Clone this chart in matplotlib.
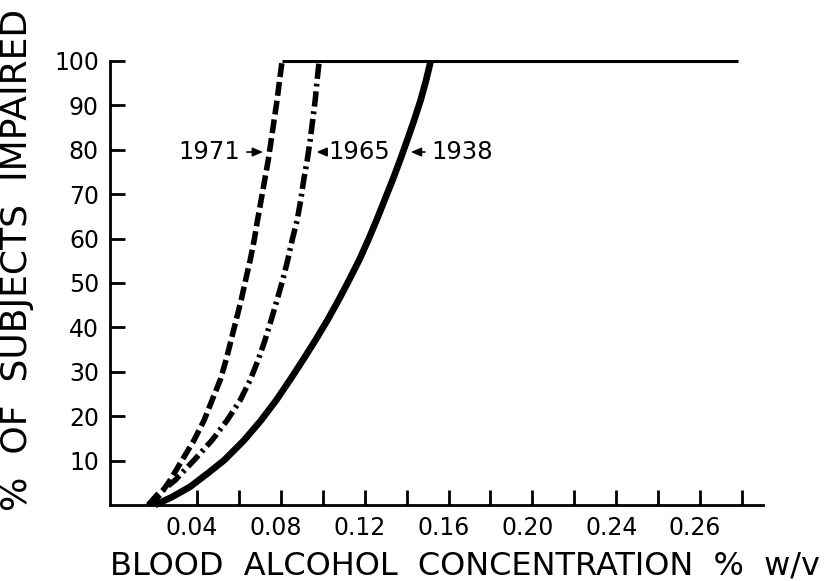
import matplotlib
matplotlib.use('Agg')
import matplotlib.pyplot as plt
from matplotlib.transforms import ScaledTranslation

plt.rcParams['font.family'] = ['DejaVu Sans']
plt.rcParams['lines.scale_dashes'] = False

# ── Data ──────────────────────────────────────────────────────────────────────
x_1938 = [0.0200, 0.0281, 0.0367, 0.0453, 0.0530, 0.0625, 0.0706, 0.0778, 0.0844,
          0.0906, 0.0966, 0.1023, 0.1076, 0.1126, 0.1174, 0.1217, 0.1257, 0.1295,
          0.1333, 0.1369, 0.1403, 0.1436, 0.1467, 0.1493, 0.1515]
y_1938 = [0, 1.8, 4.1, 7.2, 10.1, 14.6, 19.1, 23.6, 28.2, 32.7, 37.2, 41.7, 46.2,
          50.7, 55.2, 59.7, 64.2, 68.7, 73.2, 77.7, 82.2, 86.7, 91.2, 95.7, 100]

x_1965 = [0.0167, 0.0210, 0.0296, 0.0386, 0.0472, 0.0544, 0.0606, 0.0654, 0.0692,
          0.0725, 0.0754, 0.0782, 0.0809, 0.0833, 0.0854, 0.0878, 0.0895, 0.0909,
          0.0926, 0.0940, 0.0952, 0.0964, 0.0973, 0.0983]
y_1965 = [0, 2.3, 5.6, 10.1, 14.6, 19.1, 23.6, 28.2, 32.7, 37.2, 41.7, 46.2, 50.7,
          55.2, 59.7, 64.2, 68.7, 73.2, 77.7, 82.2, 86.7, 91.2, 95.7, 100]

x_1971 = [0.0177, 0.0224, 0.0272, 0.0329, 0.0386, 0.0434, 0.0472, 0.0511, 0.0539,
          0.0563, 0.0587, 0.0611, 0.0632, 0.0654, 0.0673, 0.0689, 0.0706, 0.0723,
          0.0740, 0.0754, 0.0768, 0.0782, 0.0794, 0.0806]
y_1971 = [0, 2.3, 5.6, 10.1, 14.6, 19.1, 23.6, 28.2, 32.7, 37.2, 41.7, 46.2, 50.7,
          55.2, 59.7, 64.2, 68.7, 73.2, 77.7, 82.2, 86.7, 91.2, 95.7, 100]

ceiling_x = [0.0806, 0.298]
ceiling_y = [100, 100]

x_ticks  = [0.04, 0.06, 0.08, 0.10, 0.12, 0.14, 0.16, 0.18, 0.20, 0.22, 0.24, 0.26, 0.28, 0.30]
x_labels = ['0.04', '', '0.08', '', '0.12', '', '0.16', '', '0.20', '', '0.24', '', '0.26', '']
y_ticks  = [10, 20, 30, 40, 50, 60, 70, 80, 90, 100]

# ── Figure ────────────────────────────────────────────────────────────────────
fig = plt.figure(figsize=(8.24, 5.81), dpi=100)
ax = fig.add_axes([110 / 824, 76 / 581, 653 / 824, 444 / 581])

ax.plot(ceiling_x, ceiling_y, color='black', lw=2.2, clip_on=False,
        solid_capstyle='butt')
ax.plot(x_1938, y_1938, color='black', lw=4.8, clip_on=False,
        solid_capstyle='butt', solid_joinstyle='round')
ax.plot(x_1965, y_1965, color='black', lw=4.0, clip_on=False,
        dashes=(11, 3.5, 2, 3.5))
ax.plot(x_1971, y_1971, color='black', lw=4.0, clip_on=False,
        dashes=(10, 3.6))

ax.set_xlim(-0.0015, 0.31)
ax.set_ylim(0, 100)

for s in ['top', 'right']:
    ax.spines[s].set_visible(False)
for s in ['left', 'bottom']:
    ax.spines[s].set_linewidth(2.0)

ax.set_xticks(x_ticks)
ax.set_xticklabels(x_labels)
ax.set_yticks(y_ticks)
ax.tick_params(axis='both', direction='in', length=11, width=2.0,
               labelsize=17, pad=8)

# hand-lettered x labels sit a little left of their ticks
shift = ScaledTranslation(-5 / 100, 0, fig.dpi_scale_trans)
for lbl in ax.get_xticklabels():
    lbl.set_transform(lbl.get_transform() + shift)

# ── Labels ────────────────────────────────────────────────────────────────────
ax.set_ylabel('%  OF  SUBJECTS  IMPAIRED', fontsize=26, va='center')
ax.yaxis.set_label_coords(-0.142, 0.552)
ax.set_xlabel('BLOOD  ALCOHOL  CONCENTRATION  %  w/v', fontsize=23, va='center')
ax.xaxis.set_label_coords(0.544, -0.137)

arrow = dict(arrowstyle='-|>,head_length=0.35,head_width=0.15',
             color='black', lw=1.2, shrinkA=3, shrinkB=0)
ax.annotate('1971', xy=(0.0715, 79.5), xytext=(0.0605, 79.5),
            ha='right', va='center', fontsize=17.5, arrowprops=arrow)
ax.annotate('1965', xy=(0.0970, 79.5), xytext=(0.1025, 79.5),
            ha='left', va='center', fontsize=17.5, arrowprops=arrow)
ax.annotate('1938', xy=(0.1420, 79.5), xytext=(0.1520, 79.5),
            ha='left', va='center', fontsize=17.5, arrowprops=arrow)

fig.savefig('out.png', dpi=100)
